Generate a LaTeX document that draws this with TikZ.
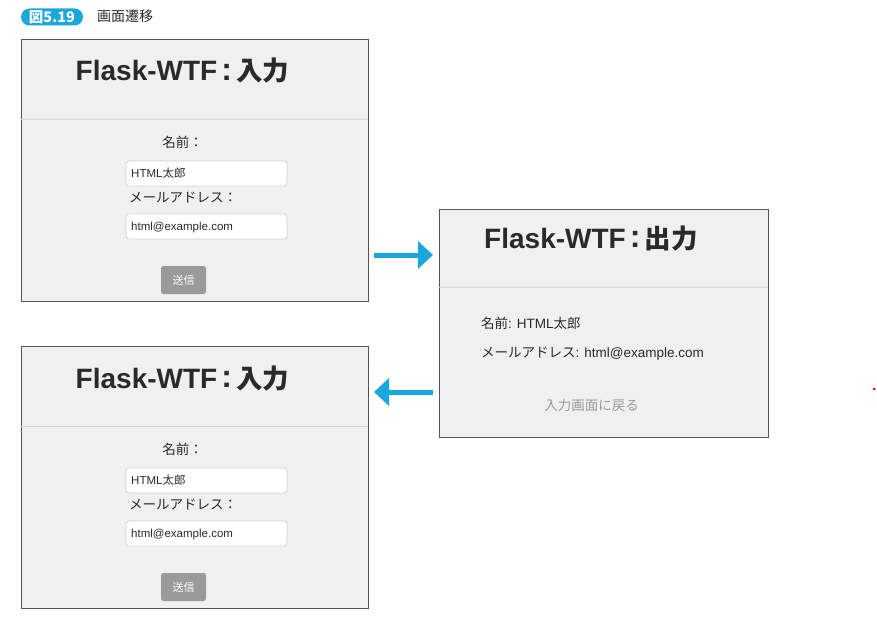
\documentclass[tikz,border=0pt]{standalone}
\usepackage{fontspec}
\setmainfont{Liberation Sans}
\newfontfamily\jp{Noto Sans CJK JP}
\usetikzlibrary{arrows.meta}
\definecolor{cy}{RGB}{26,167,222}
\definecolor{panelc}{HTML}{F0F0F0}
\definecolor{bordc}{HTML}{555555}
\definecolor{divc}{HTML}{D6D6D6}
\definecolor{fieldc}{HTML}{CFCFCF}
\definecolor{btnc}{HTML}{9A9A9A}
\definecolor{textc}{HTML}{2A2A2A}
\definecolor{linkc}{HTML}{9A9A9A}
\newcommand\fwcolon{\makebox[19pt]{\fontsize{32}{34}\selectfont\raisebox{0.5pt}{:}}}
\newcommand\ttljp[1]{{\jp\bfseries\fontsize{26.5}{30}\selectfont #1}}
\tikzset{
  panel/.style={draw=bordc, fill=panelc, line width=0.9pt, inner sep=0pt, outer sep=0pt},
  divline/.style={draw=divc, line width=0.8pt},
  field/.style={draw=fieldc, fill=white, rounded corners=3pt, line width=0.8pt, inner sep=0pt, outer sep=0pt},
  btn/.style={fill=btnc, rounded corners=2.5pt, inner sep=0pt, outer sep=0pt},
  txt/.style={inner sep=0pt, anchor=base west, text=textc},
  ctxt/.style={inner sep=0pt, anchor=base, text=textc},
  ttl/.style={ctxt, font=\fontsize{28}{30}\selectfont\bfseries},
  body/.style={font=\fontsize{13.5}{16}\selectfont},
  small/.style={font=\fontsize{11.5}{14}\selectfont},
  bigarrow/.style={draw=cy, line width=5pt, -{Triangle[length=15pt,width=27pt]}},
}
\newcommand\inform[2]{%
\begin{scope}[shift={(0,#2)}]
  \node[panel, anchor=north west, minimum width=347pt, minimum height=262pt] (#1box) at (21,39) {};
  \draw[divline] (21,119) -- (368,119);
  \node[ttl] (#1title) at (182.5,81) {Flask-WTF\fwcolon\ttljp{入力}};
  \node[ctxt, body] (#1namelbl) at (182.5,147) {\jp 名前：};
  \node[field, anchor=north west, minimum width=161pt, minimum height=25pt] (#1f1) at (126,161) {};
  \node[txt, small] (#1v1) at (131,177.5) {HTML{\jp 太郎}};
  \node[txt, body] (#1maillbl) at (129,202) {\jp メールアドレス：};
  \node[field, anchor=north west, minimum width=161pt, minimum height=25pt] (#1f2) at (126,214) {};
  \node[txt, small] (#1v2) at (131,230) {html@example.com};
  \node[btn, anchor=north west, minimum width=45pt, minimum height=28pt] (#1btn) at (161,266) {};
  \node[ctxt, text=white, font=\jp\fontsize{11}{13}\selectfont] (#1btntxt) at (#1btn.center |- 0,284) {送信};
\end{scope}}
\begin{document}
\begin{tikzpicture}[x=1pt,y=-1pt]
\useasboundingbox (0,0) rectangle (877,618);
% header
\node[fill=cy, rounded corners=8.5pt, minimum width=62pt, minimum height=17pt, inner sep=0pt] (badge) at (52,17)
  {\color{white}\jp\bfseries\fontsize{14.5}{16}\selectfont 図5.19};
\node[txt, anchor=base west, font=\jp\fontsize{14}{16}\selectfont] (caption) at (97,21.5) {画面遷移};
% input panels
\inform{a}{0}
\inform{b}{307}
% output panel
\node[panel, anchor=north west, minimum width=329pt, minimum height=228pt] (cbox) at (439,209) {};
\draw[divline] (439,287) -- (768,287);
\node[ttl] (ctitle) at (591,248) {Flask-WTF\fwcolon\ttljp{出力}};
\node[txt, body] (cname) at (481,328) {{\jp 名前}: HTML{\jp 太郎}};
\node[txt, body] (cmail) at (481,357) {{\jp メールアドレス}: html@example.com};
\node[ctxt, body, text=linkc] (clink) at (591.5,410) {\jp 入力画面に戻る};
% arrows
\coordinate (r1) at (374,255);
\coordinate (r2) at (433,255);
\coordinate (l1) at (433,392);
\coordinate (l2) at (374,392);
\draw[bigarrow] (r1) -- (r2);
\draw[bigarrow] (l1) -- (l2);
% stray red dot
\fill[red] (874,389) circle (1.5pt);
\end{tikzpicture}
\end{document}
